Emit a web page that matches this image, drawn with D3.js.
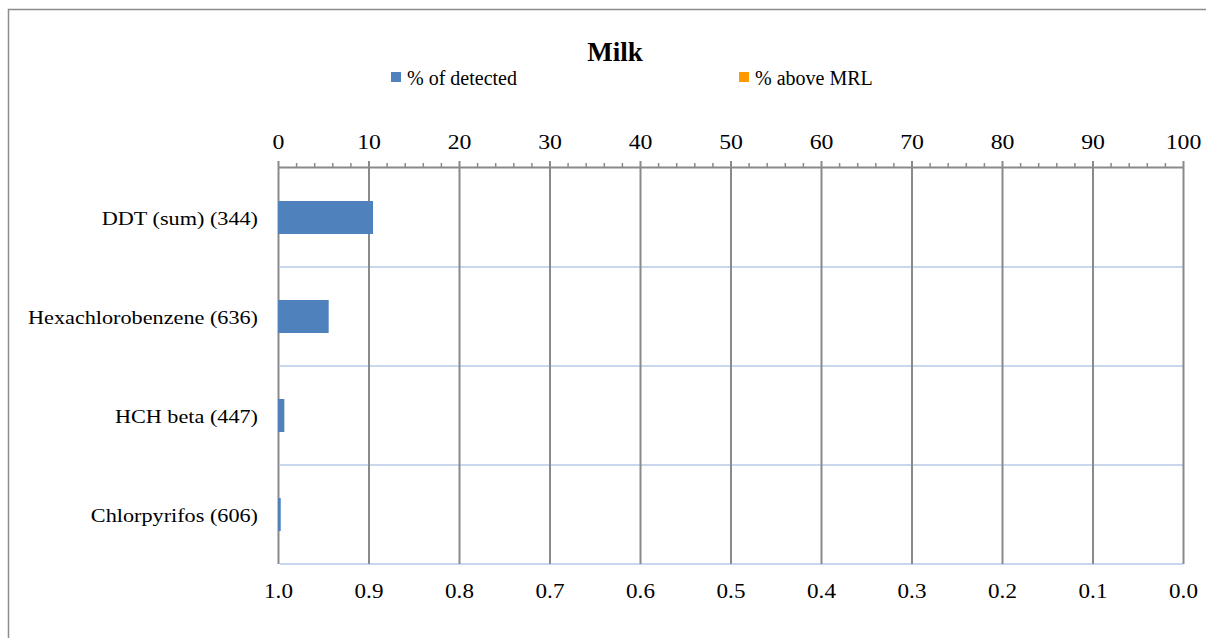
<!DOCTYPE html>
<html>
<head>
<meta charset="utf-8">
<script src="https://cdn.jsdelivr.net/npm/d3@7"></script>
<style>
  html, body { margin: 0; padding: 0; background: #fff; }
  svg { display: block; font-family: "Liberation Serif", "Times New Roman", serif; }
</style>
</head>
<body>
<svg id="chart" width="1206" height="638"></svg>
<script>
// Pesticide residues in milk: share of samples with detections / above MRL
const title = "Milk";
const categories = ["DDT (sum) (344)", "Hexachlorobenzene (636)", "HCH beta (447)", "Chlorpyrifos (606)"];
const detected = [10.5, 5.6, 0.7, 0.3];      // % of detected (top axis, 0-100)
const aboveMRL = [0, 0, 0, 0];               // % above MRL (bottom axis, 1.0-0.0)
const seriesNames = ["% of detected", "% above MRL"];
const topTicks = [0, 10, 20, 30, 40, 50, 60, 70, 80, 90, 100];
const bottomTicks = [1.0, 0.9, 0.8, 0.7, 0.6, 0.5, 0.4, 0.3, 0.2, 0.1, 0.0];

const colors = { detected: "#4F81BD", above: "#FF9900", grid: "#8A8A8A", sep: "#C9D7EE" };

const svg = d3.select("#chart");
const plotLeft = 278, plotRight = 1183, plotTop = 168, plotBottom = 564, axisY = 167;

// outer frame
svg.append("rect")
  .attr("x", 8.5).attr("y", 9.5).attr("width", 1220).attr("height", 660)
  .attr("fill", "#fff").attr("stroke", "#8c8c8c").attr("stroke-width", 1.5);

const x = d3.scaleLinear().domain([0, 100]).range([plotLeft, plotRight]);
const x2 = d3.scaleLinear().domain([1, 0]).range([plotLeft, plotRight]);
const y = d3.scaleBand().domain(categories).range([plotTop, plotBottom]).paddingInner(2 / 3).paddingOuter(1 / 3);
const yStep = y.step();

// category separators
svg.append("g").selectAll("line")
  .data(categories)
  .join("line")
  .attr("x1", plotLeft + 2).attr("x2", plotRight)
  .attr("y1", d => y(d) - y.paddingOuter() * yStep + yStep)
  .attr("y2", d => y(d) - y.paddingOuter() * yStep + yStep)
  .attr("stroke", colors.sep).attr("stroke-width", 2);

// vertical gridlines
svg.append("g")
  .attr("transform", `translate(0,${axisY - 6})`)
  .call(d3.axisBottom(x).tickValues(topTicks).tickSize(plotBottom - axisY + 6).tickFormat(""))
  .call(g => g.select(".domain").remove())
  .call(g => g.selectAll(".tick line").attr("stroke", colors.grid).attr("stroke-width", 2));

// minor ticks on the top axis
const minor = d3.range(0, 101, 2).filter(v => v % 10 !== 0);
svg.append("g")
  .attr("transform", `translate(0,${axisY})`)
  .call(d3.axisTop(x).tickValues(minor).tickSize(4).tickFormat(""))
  .call(g => g.select(".domain").remove())
  .call(g => g.selectAll(".tick line").attr("stroke", colors.grid).attr("stroke-width", 1.5));

// top axis (primary, % of detected)
svg.append("g")
  .attr("transform", `translate(0,${axisY})`)
  .call(d3.axisTop(x).tickValues(topTicks).tickSize(0).tickPadding(18).tickFormat(d3.format("d")))
  .call(g => g.select(".domain").attr("stroke", colors.grid).attr("stroke-width", 2))
  .call(g => g.selectAll(".tick text")
    .attr("font-family", "Liberation Serif").attr("font-size", 22).attr("fill", "#000")
    .attr("transform", "scale(1.08,1)"));

// bottom axis (secondary, % above MRL)
svg.append("g")
  .attr("transform", `translate(0,${plotBottom})`)
  .call(d3.axisBottom(x2).tickValues(bottomTicks).tickSize(0).tickPadding(18).tickFormat(d3.format(".1f")))
  .call(g => g.select(".domain").remove())
  .call(g => g.selectAll(".tick text")
    .attr("font-family", "Liberation Serif").attr("font-size", 22).attr("fill", "#000")
    .attr("dy", "0.71em").attr("transform", "scale(1.05,1)"));

// bars: % of detected
svg.append("g").selectAll("rect")
  .data(categories.map((c, i) => ({ c, v: detected[i] })))
  .join("rect")
  .attr("x", x(0)).attr("y", d => y(d.c))
  .attr("width", d => x(d.v) - x(0)).attr("height", y.bandwidth())
  .attr("fill", colors.detected);

// bars: % above MRL (measured from the right on the reversed axis)
svg.append("g").selectAll("rect")
  .data(categories.map((c, i) => ({ c, v: aboveMRL[i] })))
  .join("rect")
  .attr("x", d => x2(d.v)).attr("y", d => y(d.c))
  .attr("width", d => x2(0) - x2(d.v)).attr("height", y.bandwidth())
  .attr("fill", colors.above);

// category labels
svg.append("g").selectAll("g")
  .data(categories)
  .join("g")
  .attr("transform", d => `translate(258,${y(d) + y.bandwidth() / 2 + 7})`)
  .append("text")
  .attr("text-anchor", "end")
  .attr("font-size", 19)
  .attr("transform", "scale(1.17,1)")
  .text(d => d);

// title
svg.append("text")
  .attr("x", 615).attr("y", 61)
  .attr("text-anchor", "middle").attr("font-size", 27).attr("font-weight", "bold")
  .text(title);

// legend
const legendItems = [
  { name: seriesNames[0], color: colors.detected, x: 391 },
  { name: seriesNames[1], color: colors.above, x: 739 }
];
const lg = svg.append("g").selectAll("g").data(legendItems).join("g")
  .attr("transform", d => `translate(${d.x},72)`);
lg.append("rect").attr("width", 10).attr("height", 10).attr("fill", d => d.color);
lg.append("text").attr("x", 16).attr("y", 13).attr("font-size", 20).text(d => d.name);
</script>
</body>
</html>
